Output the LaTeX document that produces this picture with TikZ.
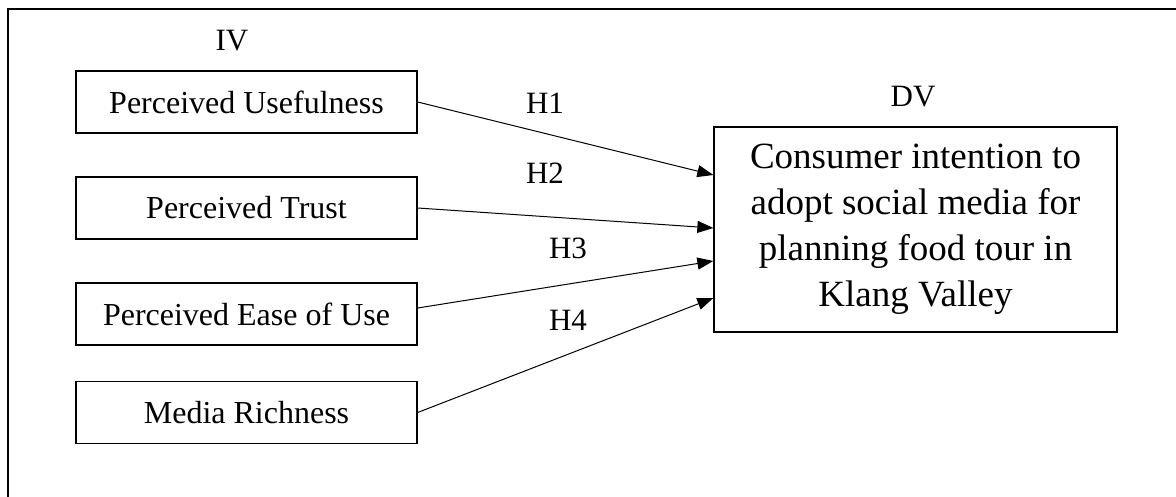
\documentclass[tikz,border=0pt]{standalone}
\usepackage{fontspec}
\setmainfont{Liberation Serif}
\usetikzlibrary{arrows.meta}
\begin{document}
\begin{tikzpicture}[x=1pt,y=-1pt,
  ivbox/.style={draw,line width=1.3pt,minimum width=341pt,minimum height=62pt,inner sep=0pt,font=\fontsize{32}{38}\selectfont},
  dvbox/.style={draw,line width=1.3pt,minimum width=403pt,minimum height=205pt,inner sep=0pt,align=center,font=\fontsize{37}{46}\selectfont},
  lbl/.style={font=\fontsize{31}{36}\selectfont,inner sep=0pt},
  arr/.style={line width=1pt,-{Triangle[length=16pt,width=12pt]}}]
\useasboundingbox (0,0) rectangle (1176,497);
\begin{scope}
\clip (0,0) rectangle (1176,497);
\draw[line width=2.2pt] (8,600) -- (8,9) -- (1300,9);
\end{scope}
\node[lbl] (iv) at (232,41) {IV};
\node[lbl] (dvl) at (913,97) {DV};
\node[ivbox] (pu) at (246.5,102) {Perceived Usefulness};
\node[ivbox] (pt) at (246.5,208) {Perceived Trust};
\node[ivbox] (peu) at (246.5,314) {Perceived Ease of Use};
\node[ivbox] (mr) at (246.5,412.5) {Media Richness};
\node[dvbox] (dv) at (915.5,229.5) {Consumer intention to\\adopt social media for\\planning food tour in\\Klang Valley};
\draw[arr] (pu.east) -- ([yshift=54.5pt]dv.west);
\draw[arr] (pt.east) -- ([yshift=1.5pt]dv.west);
\draw[arr] ([yshift=6pt]peu.east) -- ([yshift=-31.5pt]dv.west);
\draw[arr] (mr.east) -- ([yshift=-68.5pt]dv.west);
\node[lbl] (h1) at (545,103) {H1};
\node[lbl] (h2) at (545,173) {H2};
\node[lbl] (h3) at (568,248) {H3};
\node[lbl] (h4) at (568,320) {H4};
\end{tikzpicture}
\end{document}
